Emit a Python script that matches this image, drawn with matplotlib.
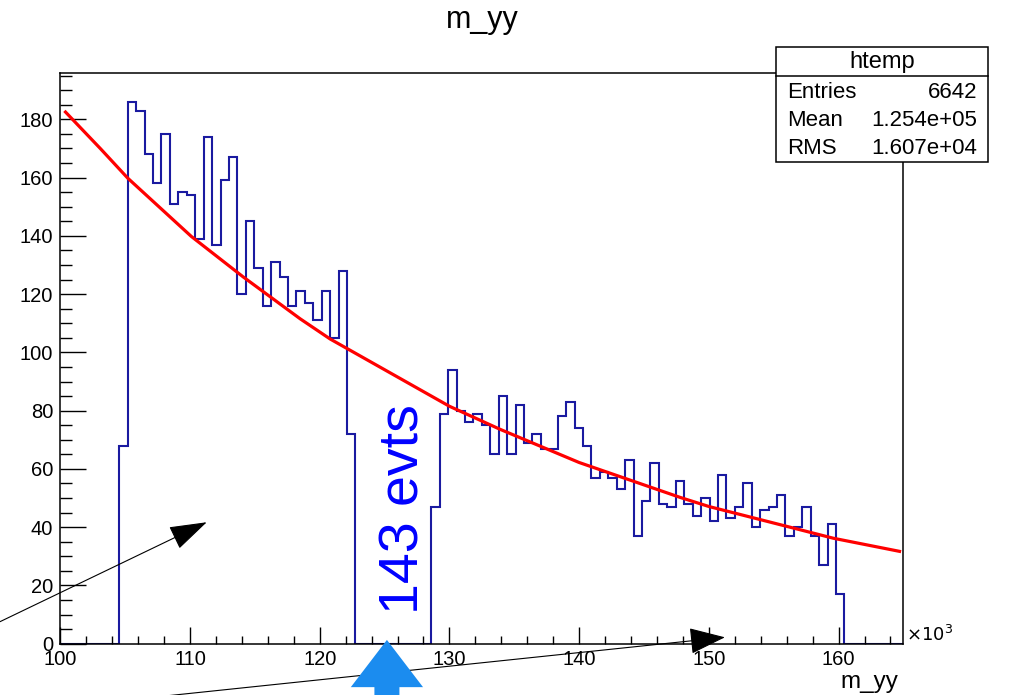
import numpy as np
import matplotlib
matplotlib.use('Agg')
import matplotlib.pyplot as plt
from matplotlib.patches import Rectangle
from matplotlib.ticker import MultipleLocator

plt.rcParams['font.family'] = ['Liberation Sans', 'DejaVu Sans']

# binning of htemp (m_yy in units of 10^3)
x_lo, x_hi, n_bins = 100.0, 165.0, 100

# bin contents (signal region blinded -> empty)
low_sideband = [68, 186, 183, 168, 158, 175, 151, 155, 154, 139,
                174, 137, 159, 167, 120, 145, 129, 116, 131, 126,
                116, 121, 117, 111, 121, 105, 128, 72]
high_sideband = [47, 79, 94, 80, 76, 79, 75, 65, 85, 65,
                 82, 69, 72, 67, 67, 78, 83, 74, 68, 57,
                 59, 57, 53, 63, 37, 49, 62, 48, 47, 56,
                 48, 44, 50, 42, 58, 43, 47, 55, 40, 46,
                 47, 51, 37, 40, 47, 37, 27, 41, 17]
counts = [0] * 7 + low_sideband + [0] * 9 + high_sideband + [0] * 7

# background fit (red curve)
fit_x = [100.4, 103.1, 105.2, 110.1, 114.1, 118.5, 120.8, 130.0,
         133.9, 140.0, 147.8, 150.0, 159.6, 164.7]
fit_y = [182.5, 169.9, 159.8, 139.8, 125.9, 111.5, 104.6, 81.5,
         73.6, 62.2, 50.2, 47.1, 36.2, 31.7]

# stats box
stats_title = 'htemp'
stats_names = ['Entries', 'Mean', 'RMS']
stats_values = ['6642', '1.254e+05', '1.607e+04']

blind_label = '143 evts'

edges = np.linspace(x_lo, x_hi, n_bins + 1)

fig = plt.figure(figsize=(10.12, 6.95), dpi=100)
ax = fig.add_axes([0.0596, 0.0738, 0.8331, 0.8216])

ax.stairs(counts, edges, color='#1a1aa0', lw=1.5)
ax.plot(fit_x, fit_y, color='red', lw=2.3)

ax.set_xlim(x_lo, x_hi)
ax.set_ylim(0, 196)
ax.xaxis.set_major_locator(MultipleLocator(10))
ax.xaxis.set_minor_locator(MultipleLocator(2))
ax.yaxis.set_major_locator(MultipleLocator(20))
ax.yaxis.set_minor_locator(MultipleLocator(5))
ax.tick_params(which='both', direction='in', top=False, right=False,
               width=1.0, labelsize=14.5)
ax.tick_params(axis='x', which='major', length=12, pad=4.5)
ax.tick_params(axis='x', which='minor', length=6)
ax.tick_params(axis='y', which='major', length=18.7, pad=5)
ax.tick_params(axis='y', which='minor', length=8.9)
for s in ax.spines.values():
    s.set_linewidth(1.1)

ax.text(1.003, 0.015, r'$\times10^{3}$', transform=ax.transAxes,
        ha='left', va='center', fontsize=13)

fig.text(482 / 1012, 1 - 20 / 695, 'm_yy', ha='center', va='center', fontsize=22)
fig.text(898 / 1012, 1 - 682 / 695, 'm_yy', ha='right', va='center', fontsize=17.5)

# blinded-region annotation
ax.text(127.58, 10.2, blind_label, rotation=90, rotation_mode='anchor',
        ha='left', va='baseline', color='blue', fontsize=40)

# arrows
ax.annotate('', xy=(111.29, 41.7), xytext=(95.35, 7.56),
            arrowprops=dict(arrowstyle='-|>,head_length=0.4,head_width=0.13',
                            color='black', lw=0.8, mutation_scale=60,
                            shrinkA=0, shrinkB=0),
            annotation_clip=False)
ax.annotate('', xy=(151.24, 2.2), xytext=(106.9, -18.5),
            arrowprops=dict(arrowstyle='-|>,head_length=0.38,head_width=0.14',
                            color='black', lw=0.8, mutation_scale=60,
                            shrinkA=0, shrinkB=0),
            annotation_clip=False)
ax.annotate('', xy=(125.18, 1.3), xytext=(125.18, -40),
            arrowprops=dict(arrowstyle='simple,head_length=0.68,head_width=1.04,tail_width=0.36',
                            color='#1b8cef', lw=0, mutation_scale=50,
                            shrinkA=0, shrinkB=0),
            annotation_clip=False)

# stats box
bx0, bx1 = 775.7 / 1012, 988.3 / 1012
by0, by1, bsep = 1 - 162.3 / 695, 1 - 47.3 / 695, 1 - 75.7 / 695
fig.patches.append(Rectangle((bx0, by0), bx1 - bx0, by1 - by0,
                             transform=fig.transFigure, facecolor='white',
                             edgecolor='black', lw=1.1, zorder=5))
fig.lines.append(plt.Line2D([bx0, bx1], [bsep, bsep], transform=fig.transFigure,
                            color='black', lw=1.1, zorder=6))
fig.text((bx0 + bx1) / 2, 1 - 62 / 695, stats_title, ha='center', va='center',
         fontsize=17, zorder=7)
for i, (name, val) in enumerate(zip(stats_names, stats_values)):
    yy = 1 - (92 + 28 * i) / 695
    fig.text(787 / 1012, yy, name, ha='left', va='center', fontsize=16, zorder=7)
    fig.text(977 / 1012, yy, val, ha='right', va='center', fontsize=16, zorder=7)

fig.savefig('out.png', dpi=100)
